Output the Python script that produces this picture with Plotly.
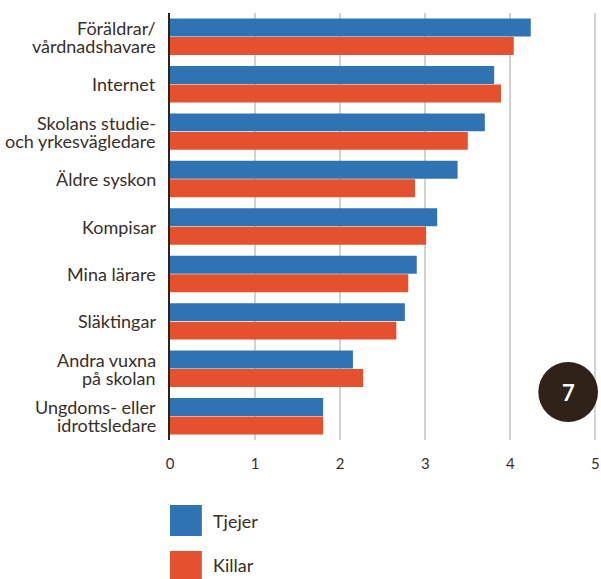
import plotly.graph_objects as go

categories = ["Föräldrar/<br>vårdnadshavare", "Internet", "Skolans studie-<br>och yrkesvägledare",
              "Äldre syskon", "Kompisar", "Mina lärare", "Släktingar",
              "Andra vuxna<br>på skolan", "Ungdoms- eller<br>idrottsledare"]
tjejer = [4.24, 3.81, 3.70, 3.38, 3.14, 2.90, 2.76, 2.15, 1.80]
killar = [4.04, 3.89, 3.50, 2.88, 3.01, 2.80, 2.66, 2.27, 1.80]
x_ticks = [0, 1, 2, 3, 4, 5]
series_names = ["Tjejer", "Killar"]

BLUE = "#3073b3"
RED = "#e4512f"
DARK = "#2f2218"
TEXT = "#3a2e28"
FONT = "Lato"
LABEL_SIZE = 18

W, H = 601, 579
L, R, T, B = 170, 1, 13, 139
PW, PH = W - L - R, H - T - B

def px(x):
    return (x - L) / PW

def py(y):
    return (H - B - y) / PH

fig = go.Figure()
fig.add_trace(go.Bar(y=categories, x=tjejer, name=series_names[0], orientation="h",
                     marker=dict(color=BLUE, line_width=0)))
fig.add_trace(go.Bar(y=categories, x=killar, name=series_names[1], orientation="h",
                     marker=dict(color=RED, line_width=0)))

fig.update_layout(
    width=W, height=H,
    margin=dict(l=L, r=R, t=T, b=B),
    paper_bgcolor="white", plot_bgcolor="white",
    barmode="group", bargap=0.22, bargroupgap=0.03,
    showlegend=False,
    font=dict(family=FONT, color=TEXT, size=LABEL_SIZE),
)
fig.update_xaxes(range=[0, 5.03], tickvals=x_ticks, showgrid=True, gridcolor="#d2d2d2",
                 gridwidth=1.5, zeroline=False, showline=False,
                 ticks="outside", ticklen=10, tickcolor="rgba(0,0,0,0)",
                 ticklabeloverflow="allow",
                 tickfont=dict(size=15, color=TEXT, family=FONT))
fig.update_yaxes(autorange="reversed", showgrid=False, showline=True, linecolor=DARK,
                 linewidth=2, ticks="", showticklabels=False)

# Category labels as annotations with tight line spacing
LINE_GAP = 18
for cat in categories:
    lines = cat.split("<br>")
    n = len(lines)
    for i, line in enumerate(lines):
        shift = (-(i - (n - 1) / 2)) * LINE_GAP
        fig.add_annotation(xref="paper", yref="y", x=px(158), y=cat, text=line,
                           showarrow=False, xanchor="right", yanchor="middle",
                           yshift=shift,
                           font=dict(size=LABEL_SIZE, color=TEXT, family=FONT))

# Legend drawn manually
legend_items = [(series_names[0], BLUE, 505, 536), (series_names[1], RED, 551, 579)]
for name, col, y0, y1 in legend_items:
    fig.add_shape(type="rect", xref="paper", yref="paper",
                  x0=px(170), x1=px(202), y0=py(y1), y1=py(y0),
                  fillcolor=col, line_width=0)
    fig.add_annotation(xref="paper", yref="paper", x=px(211), y=py((y0 + y1) / 2),
                       text=name, showarrow=False, xanchor="left", yanchor="middle",
                       font=dict(size=LABEL_SIZE, color=TEXT, family=FONT))

# Badge circle with number
fig.add_shape(type="circle", xref="paper", yref="paper",
              x0=px(540), x1=px(600), y0=py(422), y1=py(362),
              fillcolor="#2f2218", line_width=0)
fig.add_annotation(xref="paper", yref="paper", x=px(570), y=py(392), text="<b>7</b>",
                   showarrow=False, xanchor="center", yanchor="middle",
                   font=dict(size=22, color="white", family=FONT))

fig.write_html("out.html", config={"displayModeBar": False},
               post_script="document.body.style.margin='0';document.body.style.overflow='hidden';")
